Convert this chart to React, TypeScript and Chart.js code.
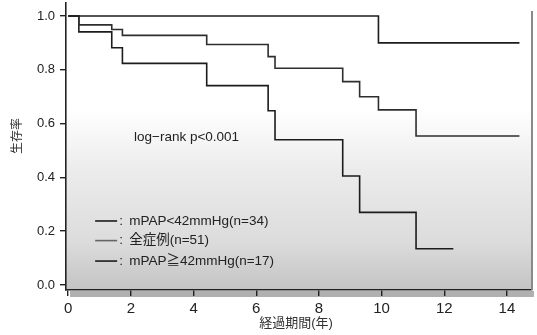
import React, { useEffect, useRef } from "react";
import { Chart, registerables } from "chart.js";
Chart.register(...registerables);

// Kaplan-Meier step data (time in years, survival)
const timesLow = [0, 9.9, 14.4];
const survLow = [1.0, 0.9, 0.9];
const timesAll = [0, 0.34, 1.39, 1.73, 4.42, 6.38, 6.6, 8.76, 9.3, 9.9, 11.1, 14.4];
const survAll = [1.0, 0.967, 0.95, 0.928, 0.894, 0.849, 0.806, 0.756, 0.7, 0.651, 0.554, 0.554];
const timesHigh = [0, 0.34, 1.39, 1.73, 4.42, 6.38, 6.6, 8.76, 9.3, 11.1, 12.29];
const survHigh = [1.0, 0.941, 0.882, 0.824, 0.741, 0.648, 0.54, 0.405, 0.27, 0.135, 0.135];

const xTicks = [0, 2, 4, 6, 8, 10, 12, 14];
const yTicks = [0, 0.2, 0.4, 0.6, 0.8, 1.0];
const legendLabels = ["mPAP<42mmHg(n=34)", "全症例(n=51)", "mPAP≧42mmHg(n=17)"];
const statText = "log\u2212rank p<0.001";
const xTitle = "経過期間(年)";
const yTitle = "生存率";

const FONT = "'Liberation Sans', Arial, 'Noto Sans CJK JP', sans-serif";
const DARK = "#1c1c1c";
const MID = "#2e2e2e";
const LEG_MID = "#666666";

const toPts = (t: number[], s: number[]) => t.map((x, i) => ({ x, y: s[i] }));

const decor = {
  id: "decor",
  beforeDraw(chart: any) {
    const { ctx, chartArea: ca } = chart;
    ctx.save();
    const g = ctx.createLinearGradient(0, ca.top, 0, ca.bottom);
    g.addColorStop(0, "#ffffff");
    g.addColorStop(0.37, "#ffffff");
    g.addColorStop(0.58, "#ececec");
    g.addColorStop(0.83, "#dcdcdc");
    g.addColorStop(1, "#c4c4c4");
    ctx.fillStyle = g;
    ctx.fillRect(ca.left, ca.top, ca.right - ca.left, ca.bottom - ca.top);
    // shadow band under x axis
    ctx.fillStyle = "#b0b0b0";
    ctx.fillRect(ca.left + 4, ca.bottom + 1, ca.right - ca.left - 2, 6);
    ctx.restore();
  },
  afterDraw(chart: any) {
    const { ctx, chartArea: ca, scales } = chart;
    const xs = scales.x;
    const ys = scales.y;
    ctx.save();
    // right border
    ctx.strokeStyle = "#8a8a8a";
    ctx.lineWidth = 2;
    ctx.beginPath();
    ctx.moveTo(ca.right, ca.top + 8);
    ctx.lineTo(ca.right, ca.bottom);
    ctx.stroke();

    // stat text
    ctx.fillStyle = "#222";
    ctx.font = `13.5px ${FONT}`;
    ctx.textBaseline = "middle";
    ctx.textAlign = "left";
    ctx.fillText(statText, xs.getPixelForValue(2.1), ys.getPixelForValue(0.548));

    // legend
    const ly = [0.238, 0.165, 0.089];
    const lc = [DARK, LEG_MID, DARK];
    legendLabels.forEach((lab, i) => {
      const y = ys.getPixelForValue(ly[i]);
      const x0 = xs.getPixelForValue(0.86);
      ctx.strokeStyle = lc[i];
      ctx.lineWidth = 1.6;
      ctx.beginPath();
      ctx.moveTo(x0, y);
      ctx.lineTo(x0 + 22, y);
      ctx.stroke();
      ctx.fillStyle = "#222";
      ctx.font = `13.5px ${FONT}`;
      ctx.fillText(":", x0 + 24, y);
      ctx.fillText(lab, x0 + 34, y);
    });

    // axis titles
    ctx.fillStyle = "#333";
    ctx.font = `13px ${FONT}`;
    ctx.textAlign = "center";
    ctx.fillText(xTitle, 296, 323);
    ctx.save();
    ctx.translate(18, 136);
    ctx.rotate(-Math.PI / 2);
    ctx.font = `12px ${FONT}`;
    ctx.fillText(yTitle, 0, 0);
    ctx.restore();
    ctx.restore();
  },
};

export default function App() {
  const ref = useRef<HTMLCanvasElement | null>(null);
  useEffect(() => {
    document.body.style.margin = "0";
    const canvas = ref.current!;
    const mk = (label: string, t: number[], s: number[], color: string) => ({
      label,
      data: toPts(t, s),
      borderColor: color,
      borderWidth: 1.6,
      pointRadius: 0,
      fill: false,
      stepped: "before" as const,
    });
    const zeroPad = (s: any) => {
      s.paddingTop = 0;
      s.paddingBottom = 0;
      s.paddingLeft = 0;
      s.paddingRight = 0;
    };
    const chart = new Chart(canvas, {
      type: "line",
      data: {
        datasets: [
          mk(legendLabels[0], timesLow, survLow, DARK),
          mk(legendLabels[1], timesAll, survAll, MID),
          mk(legendLabels[2], timesHigh, survHigh, DARK),
        ],
      },
      options: {
        responsive: false,
        animation: false,
        layout: { padding: { top: 3, right: 5, left: 0, bottom: 0 } },
        plugins: { legend: { display: false }, tooltip: { enabled: false } },
        scales: {
          x: {
            type: "linear",
            min: -0.07,
            max: 14.8,
            afterBuildTicks: (s: any) => {
              s.ticks = xTicks.map((v) => ({ value: v }));
            },
            afterFit: (s: any) => {
              s.height = 45;
              zeroPad(s);
            },
            ticks: {
              autoSkip: false,
              maxRotation: 0,
              padding: 4,
              color: "#222",
              font: { size: 15, family: FONT },
              callback: (v: any) => String(v),
            },
            grid: { drawOnChartArea: false, tickLength: 6, color: "#222", lineWidth: 1.4 },
            border: { color: "#222", width: 1.6 },
          },
          y: {
            type: "linear",
            min: -0.0186,
            max: 1.0483,
            afterBuildTicks: (s: any) => {
              s.ticks = yTicks.map((v) => ({ value: v }));
            },
            afterFit: (s: any) => {
              s.width = 66;
              zeroPad(s);
            },
            ticks: {
              autoSkip: false,
              padding: 5,
              color: "#222",
              font: { size: 13, family: FONT },
              callback: (v: any) => Number(v).toFixed(1),
            },
            grid: { drawOnChartArea: false, tickLength: 6, color: "#222", lineWidth: 1.4 },
            border: { color: "#222", width: 1.6 },
          },
        },
      },
      plugins: [decor],
    });
    return () => chart.destroy();
  }, []);
  return (
    <div style={{ width: 537, height: 335 }}>
      <canvas ref={ref} width={537} height={335} style={{ display: "block" }} />
    </div>
  );
}
